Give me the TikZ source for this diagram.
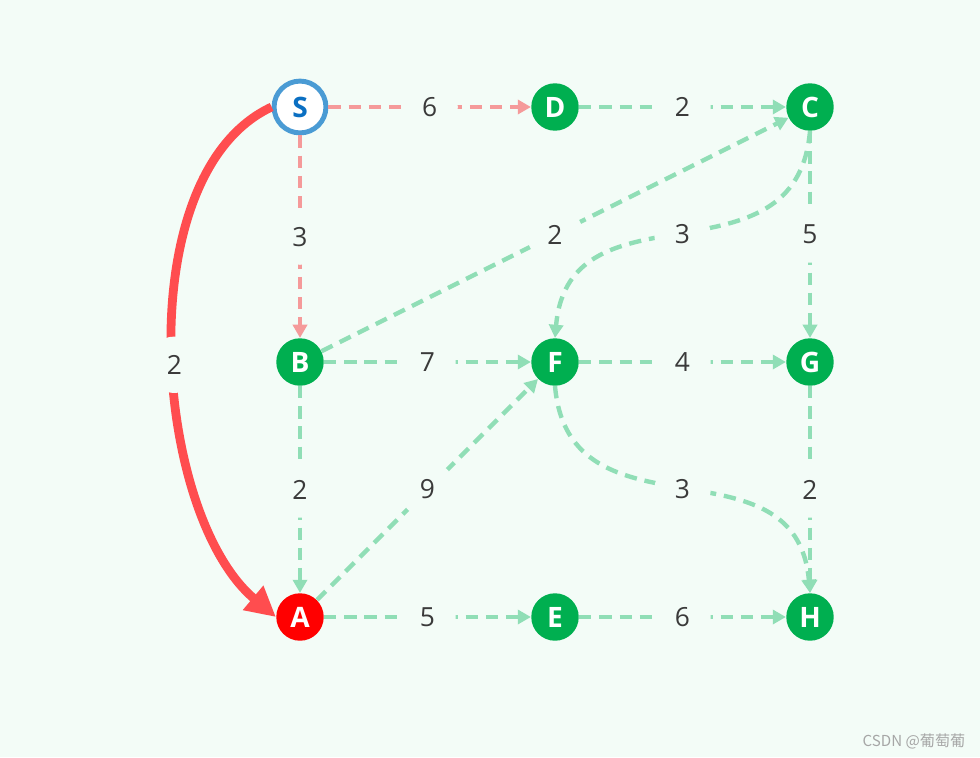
\documentclass[tikz,border=0pt]{standalone}
\usepackage{fontspec}
\setmainfont{Open Sans}
\newfontfamily\cjkfont{Noto Sans CJK SC}
\usepackage{tikz}
\usetikzlibrary{arrows.meta,positioning}
\definecolor{fondo}{HTML}{F3FCF7}
\definecolor{verdeNodo}{HTML}{00AF50}
\definecolor{rojoNodo}{HTML}{FF0000}
\definecolor{azulBorde}{HTML}{4A9BD4}
\definecolor{azulTexto}{HTML}{0A6FC2}
\definecolor{verdeArista}{HTML}{90DEB6}
\definecolor{rosaArista}{HTML}{F59A9A}
\definecolor{rojoCamino}{HTML}{FF4D4F}
\definecolor{textoPeso}{HTML}{3A3A3A}
\tikzset{
  vert/.style={circle, fill=#1, text=white, minimum size=27pt, inner sep=0pt, font=\fontsize{16}{18}\selectfont\bfseries},
  origen/.style={circle, draw=azulBorde, line width=2.8pt, fill=white, text=azulTexto, minimum size=29.5pt, inner sep=0pt, font=\fontsize{16}{18}\selectfont\bfseries},
  arista/.style={draw=#1, line width=2.5pt, dash pattern=on 7pt off 4.5pt, -{Triangle[length=7.5pt,width=8pt]}},
  peso/.style={circle, fill=fondo, text=textoPeso, minimum size=32pt, inner sep=0pt, font=\fontsize{15}{17}\selectfont},
  camino/.style={draw=rojoCamino, line width=5pt, -{Triangle[length=17pt,width=17pt]}},
}
\begin{document}
\begin{tikzpicture}[node distance=5.1cm, on grid]
\fill[fondo] (0,0) rectangle (19.6,15.14);
\useasboundingbox (0,0) rectangle (19.6,15.14);

% Fila superior
\node[origen] (S) at (6,13) {S};
\node[vert=verdeNodo, right=of S] (D) {D};
\node[vert=verdeNodo, right=of D] (C) {C};
% Fila media
\node[vert=verdeNodo, below=of S] (B) {B};
\node[vert=verdeNodo, right=of B] (F) {F};
\node[vert=verdeNodo, right=of F] (G) {G};
% Fila inferior
\node[vert=rojoNodo, below=of B] (A) {A};
\node[vert=verdeNodo, right=of A] (E) {E};
\node[vert=verdeNodo, right=of E] (H) {H};

% Aristas desde S
\draw[arista=rosaArista] (S) -- node[peso] {6} (D);
\draw[arista=rosaArista] (S) -- node[peso] {3} (B);

% Aristas restantes
\draw[arista=verdeArista] (D) -- node[peso] {2} (C);
\draw[arista=verdeArista] (B) -- node[peso] {2} (C);
\draw[arista=verdeArista] (C.south) to[out=-95, in=85, looseness=1.25] node[peso] {3} (F.north);
\draw[arista=verdeArista] (C) -- node[peso] {5} (G);
\draw[arista=verdeArista] (B) -- node[peso] {7} (F);
\draw[arista=verdeArista] (F) -- node[peso] {4} (G);
\draw[arista=verdeArista] (B) -- node[peso] {2} (A);
\draw[arista=verdeArista] (A) -- node[peso] {9} (F);
\draw[arista=verdeArista] (F.south) to[out=-85, in=95, looseness=1.25] node[peso] {3} (H.north);
\draw[arista=verdeArista] (G) -- node[peso] {2} (H);
\draw[arista=verdeArista] (A) -- node[peso] {5} (E);
\draw[arista=verdeArista] (E) -- node[peso] {6} (H);

% Camino S-A
\draw[camino] (S.west) to[out=205, in=140, looseness=0.8] node[peso, pos=0.525] {2} (A.west);

% Marca de agua
\node[text=black!35, font=\cjkfont\fontsize{8.6}{10}\selectfont] (marca) at (18.28,0.32) {CSDN @葡萄葡};
\end{tikzpicture}
\end{document}
